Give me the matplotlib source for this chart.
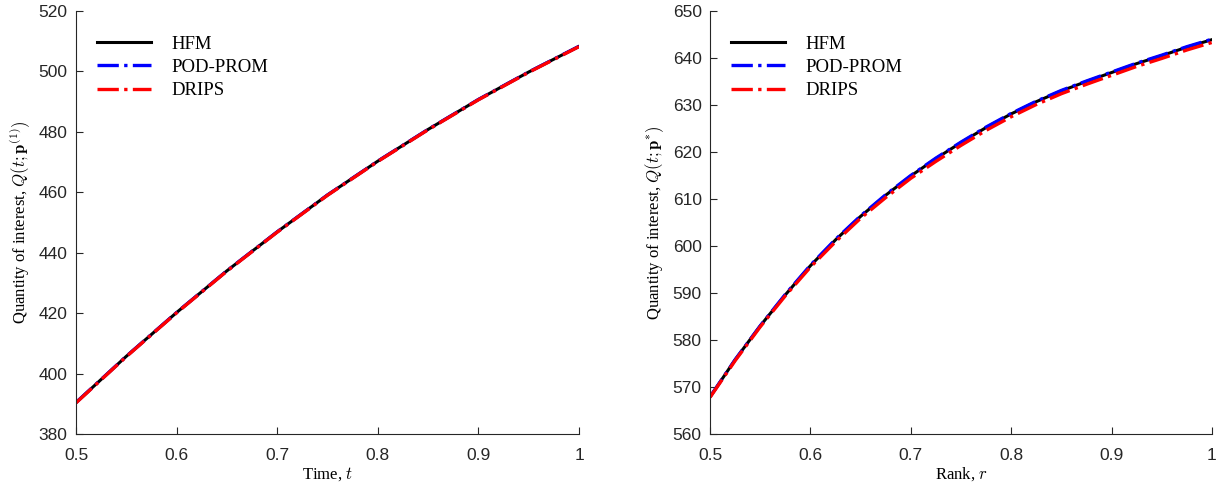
import numpy as np
import matplotlib.pyplot as plt

plt.rcParams['mathtext.fontset'] = 'cm'

# left panel: quantity of interest over time for p^(1)
t_left = [0.5, 0.55, 0.6, 0.65, 0.7, 0.75, 0.8, 0.85, 0.9, 0.95, 1.0]
hfm_left = [390.4, 405.7, 420.2, 434.0, 446.9, 459.1, 470.3, 480.8, 490.7, 499.8, 508.3]
pod_left = [390.4, 405.7, 420.2, 434.0, 446.9, 459.1, 470.3, 480.8, 490.7, 499.8, 508.3]
drips_left = [390.3, 405.6, 420.1, 433.9, 446.8, 459.0, 470.2, 480.7, 490.6, 499.7, 508.2]

# right panel: quantity of interest over rank for p*
r_right = [0.5, 0.525, 0.55, 0.575, 0.6, 0.625, 0.65, 0.675, 0.7, 0.725, 0.75,
           0.775, 0.8, 0.825, 0.85, 0.875, 0.9, 0.925, 0.95, 0.975, 1.0]
hfm_right = [567.9, 575.8, 583.0, 589.6, 595.8, 601.3, 606.3, 610.8, 614.9, 618.6, 622.0,
             625.2, 628.1, 630.7, 633.0, 635.0, 636.9, 638.8, 640.5, 642.3, 643.9]
pod_right = [567.9, 575.8, 583.0, 589.7, 595.9, 601.4, 606.4, 610.9, 615.0, 618.7, 622.1,
             625.3, 628.2, 630.8, 633.1, 635.1, 637.0, 638.9, 640.6, 642.4, 644.0]
drips_right = [567.8, 575.6, 582.8, 589.4, 595.5, 600.9, 605.9, 610.3, 614.4, 618.0, 621.4,
               624.6, 627.5, 630.1, 632.4, 634.4, 636.3, 638.2, 639.9, 641.7, 643.3]

serif = 'Liberation Serif'
sans = 'Liberation Sans'
gray = '#262626'

fig = plt.figure(figsize=(12.2, 4.88), dpi=100)
ax1 = fig.add_axes([0.0623, 0.1107, 0.4123, 0.8668])
ax2 = fig.add_axes([0.5820, 0.1107, 0.4114, 0.8668])


def draw(ax, x, hfm, pod, drips, ylim, yticks, xlabel, ylabel):
    ax.plot(x, hfm, color='black', lw=2.2, ls='-', label='HFM')
    ax.plot(x, pod, color='blue', lw=2.4, ls='-.', label='POD-PROM')
    ax.plot(x, drips, color='red', lw=2.4, ls='-.', label='DRIPS')
    ax.set_xlim(0.5, 1.0)
    ax.set_ylim(*ylim)
    ax.set_xticks([0.5, 0.6, 0.7, 0.8, 0.9, 1.0])
    ax.set_xticklabels(['0.5', '0.6', '0.7', '0.8', '0.9', '1'])
    ax.set_yticks(yticks)
    for lab in ax.get_xticklabels() + ax.get_yticklabels():
        lab.set_fontfamily(sans)
    ax.tick_params(direction='in', length=5, width=0.8, labelsize=12.5,
                   colors=gray)
    ax.tick_params(axis='x', pad=10)
    ax.tick_params(axis='y', pad=6)
    for side in ['top', 'right']:
        ax.spines[side].set_visible(False)
    for side in ['left', 'bottom']:
        ax.spines[side].set_color(gray)
        ax.spines[side].set_linewidth(0.8)
    ax.set_xlabel(xlabel, fontfamily=serif, fontsize=12, labelpad=2)
    ax.set_ylabel(ylabel, fontfamily=serif, fontsize=12, labelpad=5)
    ax.legend(loc='upper left', bbox_to_anchor=(0.008, 0.982), frameon=False,
              handlelength=2.9, handletextpad=1.05, labelspacing=0.33,
              prop={'family': serif, 'size': 13.5})


draw(ax1, t_left, hfm_left, pod_left, drips_left, (380, 520),
     np.arange(380, 521, 20), r'Time, $t$',
     r'Quantity of interest, $Q(t;\mathbf{p}^{(1)})$')
draw(ax2, r_right, hfm_right, pod_right, drips_right, (560, 650),
     np.arange(560, 651, 10), r'Rank, $r$',
     r'Quantity of interest, $Q(t;\mathbf{p}^{*})$')

fig.savefig('out.png', dpi=100)
